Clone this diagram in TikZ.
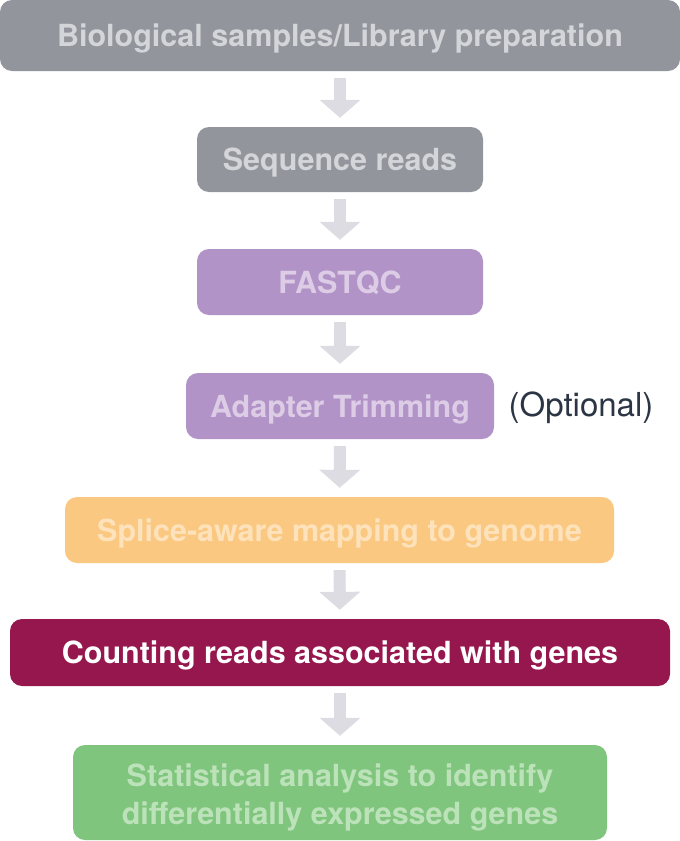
\documentclass[tikz,border=0pt]{standalone}
\usepackage{fontspec}
\setmainfont{TeX Gyre Heros}
\usetikzlibrary{arrows.meta}
\definecolor{grayfill}{HTML}{93959D}
\definecolor{graytext}{HTML}{D4D5D9}
\definecolor{purplefill}{HTML}{B293C7}
\definecolor{purpletext}{HTML}{DCCCE6}
\definecolor{orangefill}{HTML}{FAC880}
\definecolor{orangetext}{HTML}{FDE2BB}
\definecolor{wine}{HTML}{96174E}
\definecolor{greenfill}{HTML}{80C57D}
\definecolor{greentext}{HTML}{BCE2B9}
\definecolor{arrowgray}{HTML}{DCDCE2}
\definecolor{darknote}{HTML}{2B3544}
\tikzset{
  stepbox/.style={rectangle, rounded corners=12pt, inner sep=0pt, align=center,
    text height=22pt, text depth=0pt,
    font=\fontsize{30.5}{38}\selectfont\bfseries},
  flow/.style={draw=arrowgray, line width=12pt, shorten <=7pt, shorten >=9pt,
    -{Triangle[length=18pt 0, width=40pt 0]}},
}
\begin{document}
\begin{tikzpicture}[x=1pt,y=1pt]
\useasboundingbox (0,0) rectangle (680,-841);
\node[stepbox, fill=grayfill, text=graytext, minimum width=680pt, minimum height=71pt] (b1) at (340,-35.5) {Biological samples/Library preparation};
\node[stepbox, fill=grayfill, text=graytext, minimum width=286pt, minimum height=65pt] (b2) at (340,-159.5) {Sequence reads};
\node[stepbox, fill=purplefill, text=purpletext, minimum width=286pt, minimum height=66pt] (b3) at (340,-282) {FASTQC};
\node[stepbox, fill=purplefill, text=purpletext, minimum width=308pt, minimum height=66pt] (b4) at (340,-406) {Adapter Trimming};
\node[stepbox, fill=orangefill, text=orangetext, minimum width=549pt, minimum height=66pt] (b5) at (339.5,-530) {Splice-aware mapping to genome};
\node[stepbox, fill=wine, text=white, minimum width=660pt, minimum height=67pt] (b6) at (340,-652.5) {Counting reads associated with genes};
\node[stepbox, fill=greenfill, text=greentext, minimum width=534pt, minimum height=95pt, text height=, text depth=] (b7) at (340,-792.5) {\rule{0pt}{32pt}Statistical analysis to identify\\differentially expressed genes};
\node[font=\fontsize{33}{38}\selectfont, text=darknote, inner sep=0pt] (opt) at (581,-408) {(Optional)};
\draw[flow] (b1) -- (b2);
\draw[flow] (b2) -- (b3);
\draw[flow] (b3) -- (b4);
\draw[flow] (b4) -- (b5);
\draw[flow] (b5) -- (b6);
\draw[flow] (b6) -- (b7);
\end{tikzpicture}
\end{document}
